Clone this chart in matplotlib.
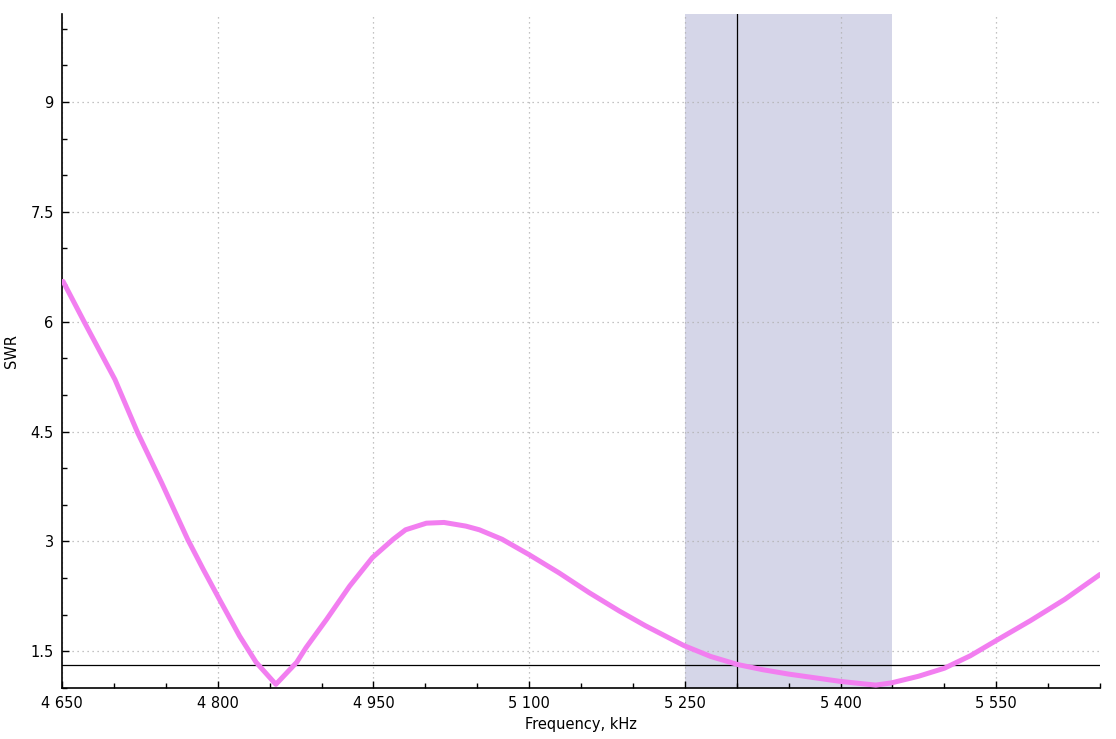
import matplotlib.pyplot as plt
from matplotlib.ticker import MultipleLocator, FuncFormatter

# values
freq_khz = [4651, 4672, 4701, 4723, 4746, 4771, 4786, 4802, 4821, 4837, 4856,
            4876, 4885, 4905, 4927, 4949, 4969, 4981, 5001, 5018, 5039, 5052,
            5074, 5100, 5129, 5158, 5187, 5212, 5249, 5275, 5301, 5325, 5350,
            5375, 5400, 5420, 5434, 5449, 5475, 5500, 5525, 5549, 5583, 5616, 5650]
swr = [6.55, 5.98, 5.21, 4.48, 3.80, 3.03, 2.62, 2.20, 1.71, 1.35, 1.05,
       1.35, 1.55, 1.94, 2.39, 2.78, 3.03, 3.16, 3.25, 3.26, 3.21, 3.16,
       3.03, 2.82, 2.57, 2.30, 2.05, 1.85, 1.58, 1.43, 1.32, 1.25, 1.19,
       1.14, 1.09, 1.06, 1.04, 1.07, 1.16, 1.27, 1.44, 1.64, 1.92, 2.21, 2.55]

band_khz = [5250, 5450]
marker_khz = 5300
swr_level = 1.32

fig = plt.figure(figsize=(11.16, 7.39), dpi=100)
ax = fig.add_axes([0.0556, 0.069, 0.9301, 0.912])

ax.axvspan(band_khz[0], band_khz[1], color='#D5D6E8', zorder=0, lw=0)
ax.axvline(marker_khz, color='black', lw=0.9, zorder=2)
ax.axhline(swr_level, color='black', lw=0.9, zorder=2)
ax.plot(freq_khz, swr, color='#F27EF0', lw=3.6, zorder=3,
        solid_capstyle='round', solid_joinstyle='round')

ax.set_xlim(4650, 5650)
ax.set_ylim(1.0, 10.2)

ax.xaxis.set_major_locator(MultipleLocator(150))
ax.xaxis.set_minor_locator(MultipleLocator(50))
ax.yaxis.set_major_locator(MultipleLocator(1.5))
ax.yaxis.set_minor_locator(MultipleLocator(0.5))
ax.xaxis.set_major_formatter(FuncFormatter(lambda v, p: f"{int(v):,}".replace(",", " ")))
ax.yaxis.set_major_formatter(FuncFormatter(lambda v, p: f"{v:g}"))

ax.tick_params(which='major', direction='in', length=5, width=1, labelsize=10.5, pad=6)
ax.tick_params(which='minor', direction='in', length=3.5, width=1)

ax.grid(True, which='major', linestyle=(0, (1, 3)), color='#B0B0B0', lw=0.9)
ax.spines['top'].set_visible(False)
ax.spines['right'].set_visible(False)
ax.spines['left'].set_linewidth(1.2)
ax.spines['bottom'].set_linewidth(1.2)

ax.set_xlabel('Frequency, kHz', fontsize=10.5, labelpad=4)
ax.set_ylabel('SWR', fontsize=10.5, labelpad=8)

fig.savefig('out.png', dpi=100)
